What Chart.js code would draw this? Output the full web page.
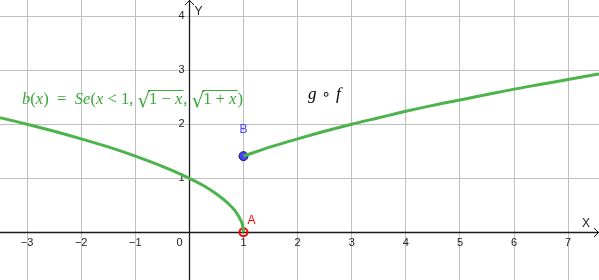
<!DOCTYPE html>
<html>
<head>
<meta charset="utf-8">
<script src="https://cdn.jsdelivr.net/npm/chart.js@4/dist/chart.umd.min.js"></script>
<style>
html,body{margin:0;padding:0;background:#fff;overflow:hidden;}
canvas{display:block;}
</style>
</head>
<body>
<canvas id="c" width="599" height="280"></canvas>
<script>
// ---- data ----
const leftX  = [-3.5, -3, -2.5, -2, -1.5, -1, -0.5, 0, 0.25, 0.5, 0.7, 0.85, 0.95, 0.99, 1];
const leftY  = [2.12, 2.0, 1.87, 1.73, 1.58, 1.41, 1.22, 1.0, 0.87, 0.71, 0.55, 0.39, 0.22, 0.1, 0];
const rightX = [1, 1.5, 2, 2.5, 3, 3.5, 4, 4.5, 5, 5.5, 6, 6.5, 7, 7.57];
const rightY = [1.41, 1.58, 1.73, 1.87, 2.0, 2.12, 2.24, 2.35, 2.45, 2.55, 2.65, 2.74, 2.83, 2.93];
const pointA = [1, 0];
const pointB = [1, 1.41];
const xTickValues = [-3, -2, -1, 1, 2, 3, 4, 5, 6, 7];
const xTickLabels = ['\u22123', '\u22122', '\u22121', '1', '2', '3', '4', '5', '6', '7'];
const yTickValues = [1, 2, 3, 4];
const yTickLabels = ['1', '2', '3', '4'];
const xRange = [-3.5, 7.57];
const yRange = [-0.883, 4.30];

const curveColor = '#4db34d';
const textGreen = '#3aa83a';

function pts(xs, ys){ return xs.map((x,i)=>({x:x, y:ys[i]})); }

const axesPlugin = {
  id: 'geoAxes',
  beforeDatasetsDraw(chart){
    const ctx = chart.ctx, xs = chart.scales.x, ys = chart.scales.y;
    const ca = chart.chartArea;
    const ox = Math.round(xs.getPixelForValue(0)) + 0.5;
    const oy = Math.round(ys.getPixelForValue(0)) + 0.5;
    ctx.save();
    ctx.strokeStyle = '#1a1a1a';
    ctx.lineWidth = 1.3;
    ctx.beginPath();
    ctx.moveTo(ca.left, oy); ctx.lineTo(ca.right, oy);
    ctx.moveTo(ox, ca.bottom); ctx.lineTo(ox, ca.top);
    ctx.stroke();
    // arrows
    ctx.lineWidth = 1;
    ctx.beginPath();
    ctx.moveTo(ca.right - 5, oy - 4.5); ctx.lineTo(ca.right - 0.5, oy); ctx.lineTo(ca.right - 5, oy + 4.5);
    ctx.moveTo(ox - 4.5, ca.top + 5); ctx.lineTo(ox, ca.top + 0.5); ctx.lineTo(ox + 4.5, ca.top + 5);
    ctx.stroke();
    // tick labels
    ctx.fillStyle = '#222';
    ctx.font = '11px "Liberation Sans", Arial, sans-serif';
    ctx.textAlign = 'center';
    ctx.textBaseline = 'middle';
    xTickValues.forEach((v,i)=>{
      ctx.fillText(xTickLabels[i], xs.getPixelForValue(v), oy + 10);
    });
    ctx.textAlign = 'right';
    yTickValues.forEach((v,i)=>{
      ctx.fillText(yTickLabels[i], ox - 5, ys.getPixelForValue(v));
    });
    ctx.fillText('0', ox - 7, oy + 10);
    // axis names
    ctx.textAlign = 'left';
    ctx.font = '12px "Liberation Sans", Arial, sans-serif';
    ctx.fillText('Y', ox + 5, ca.top + 12);
    ctx.fillText('X', ca.right - 17, oy - 9);
    ctx.restore();
  },
  afterDatasetsDraw(chart){
    const ctx = chart.ctx, xs = chart.scales.x, ys = chart.scales.y;
    ctx.save();
    ctx.font = '12px "Liberation Sans", Arial, sans-serif';
    ctx.textBaseline = 'middle';
    ctx.textAlign = 'left';
    ctx.fillStyle = '#ff0000';
    ctx.fillText('A', xs.getPixelForValue(pointA[0]) + 4, ys.getPixelForValue(pointA[1]) - 12);
    ctx.fillStyle = '#4545ff';
    ctx.textAlign = 'center';
    ctx.fillText('B', xs.getPixelForValue(pointB[0]), ys.getPixelForValue(pointB[1]) - 26);

    // g ∘ f
    ctx.fillStyle = '#000';
    ctx.textAlign = 'left';
    ctx.textBaseline = 'alphabetic';
    ctx.font = 'italic 17px "Liberation Serif", serif';
    let x = 308;
    ctx.fillText('g', x, 99); x += ctx.measureText('g').width + 5;
    ctx.font = '15px "DejaVu Sans", sans-serif';
    ctx.fillText('\u2218', x, 99); x += ctx.measureText('\u2218').width + 5;
    ctx.font = 'italic 17px "Liberation Serif", serif';
    ctx.fillText('f', x, 99);

    // formula
    const R = '17px "Liberation Serif", serif', I = 'italic 17px "Liberation Serif", serif';
    const SQ = '20px "DejaVu Serif", serif';
    const parts = [
      [I,'b'],[R,'('],[I,'x'],[R,')'],[R,'  =  '],[I,'Se'],[R,'('],[I,'x'],[R,' < 1, '],
      ['S'],[R,'1 \u2212 '],[I,'x'],['E'],[R,', '],
      ['S'],[R,'1 + '],[I,'x'],['E'],[R,')']
    ];
    function run(draw){
      let cx = 0, sqStart = 0;
      parts.forEach(p=>{
        if (p[0]==='S'){
          ctx.font = SQ;
          if (draw) ctx.fillText('\u221A', 22 + cx, 107);
          cx += ctx.measureText('\u221A').width - 1;
          sqStart = cx;
          return;
        }
        if (p[0]==='E'){
          if (draw){
            ctx.beginPath();
            ctx.moveTo(22 + sqStart - 1, 90.5);
            ctx.lineTo(22 + cx + 1, 90.5);
            ctx.stroke();
          }
          cx += 1;
          return;
        }
        ctx.font = p[0];
        if (draw) ctx.fillText(p[1], 22 + cx, 104);
        cx += ctx.measureText(p[1]).width;
      });
      return cx;
    }
    ctx.fillStyle = textGreen;
    ctx.strokeStyle = textGreen;
    ctx.lineWidth = 1;
    const total = run(false);
    const sx = 221 / total;
    ctx.save();
    ctx.translate(22, 0); ctx.scale(sx, 1); ctx.translate(-22, 0);
    run(true);
    ctx.restore();
    ctx.restore();
  }
};

new Chart(document.getElementById('c'), {
  type: 'scatter',
  data: {
    datasets: [
      { data: pts(leftX, leftY), showLine: true, borderColor: curveColor, borderWidth: 3,
        pointRadius: 0, cubicInterpolationMode: 'monotone' },
      { data: pts(rightX, rightY), showLine: true, borderColor: curveColor, borderWidth: 3,
        pointRadius: 0, cubicInterpolationMode: 'monotone' },
      { data: [{x: pointB[0], y: pointB[1]}], pointRadius: 4.5, backgroundColor: '#4242ff',
        borderColor: '#1a1a5a', borderWidth: 1, clip: false },
      { data: [{x: pointA[0], y: pointA[1]}], pointRadius: 4, backgroundColor: 'rgba(255,255,255,0)',
        borderColor: '#ff0000', borderWidth: 2, clip: false }
    ]
  },
  options: {
    responsive: false,
    animation: false,
    layout: { padding: 0, autoPadding: false },
    plugins: { legend: { display: false }, tooltip: { enabled: false } },
    scales: {
      x: { type: 'linear', min: xRange[0], max: xRange[1],
           ticks: { display: false, stepSize: 1, includeBounds: false },
           grid: { color: '#c0c0c0', lineWidth: 1, drawTicks: false },
           border: { display: false } },
      y: { type: 'linear', min: yRange[0], max: yRange[1],
           ticks: { display: false, stepSize: 1, includeBounds: false },
           grid: { color: '#c0c0c0', lineWidth: 1, drawTicks: false },
           border: { display: false } }
    }
  },
  plugins: [axesPlugin]
});
</script>
</body>
</html>
